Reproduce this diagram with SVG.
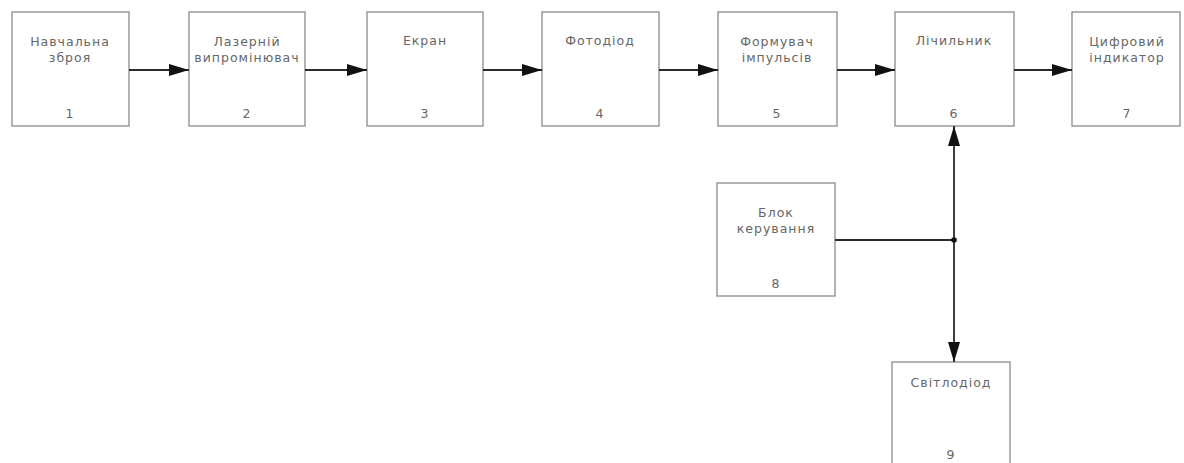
<svg xmlns="http://www.w3.org/2000/svg" width="1184" height="463" viewBox="0 0 1184 463">
<style>
.b{fill:#fff;stroke:#8a8a8a;stroke-width:1.3}
.t{font-family:"DejaVu Sans","Liberation Sans",sans-serif;font-size:12.5px;letter-spacing:1px;fill:#666;text-anchor:middle}
.c{stroke:#2a2a2a;stroke-width:1.8;fill:none}
</style>
<defs>
<marker id="a" viewBox="0 0 20 12" refX="20" refY="6" markerWidth="20" markerHeight="12" markerUnits="userSpaceOnUse" orient="auto-start-reverse">
<path d="M0,0 L20,6 L0,12 z" fill="#111"/>
</marker>
</defs>
<rect width="1184" height="463" fill="#fff"/>
<g id="n1"><rect class="b" x="12" y="12" width="117" height="114"/><text class="t" x="70" y="46">Навчальна</text><text class="t" x="70" y="62">зброя</text><text class="t" x="70" y="118">1</text></g>
<g id="n2"><rect class="b" x="189" y="12" width="116" height="114"/><text class="t" x="247" y="46">Лазерній</text><text class="t" x="247" y="62">випромінювач</text><text class="t" x="247" y="118">2</text></g>
<g id="n3"><rect class="b" x="367" y="12" width="116" height="114"/><text class="t" x="425" y="45">Екран</text><text class="t" x="425" y="118">3</text></g>
<g id="n4"><rect class="b" x="542" y="12" width="117" height="114"/><text class="t" x="600" y="45">Фотодіод</text><text class="t" x="600" y="118">4</text></g>
<g id="n5"><rect class="b" x="718" y="12" width="119" height="114"/><text class="t" x="777" y="46">Формувач</text><text class="t" x="777" y="62">імпульсів</text><text class="t" x="777" y="118">5</text></g>
<g id="n6"><rect class="b" x="895" y="12" width="119" height="114"/><text class="t" x="954" y="45">Лічильник</text><text class="t" x="954" y="118">6</text></g>
<g id="n7"><rect class="b" x="1072" y="12" width="108" height="114"/><text class="t" x="1127" y="46">Цифровий</text><text class="t" x="1127" y="62">індикатор</text><text class="t" x="1127" y="118">7</text></g>
<g id="n8"><rect class="b" x="717" y="183" width="118" height="113"/><text class="t" x="776" y="217">Блок</text><text class="t" x="776" y="233">керування</text><text class="t" x="776" y="288">8</text></g>
<g id="n9"><rect class="b" x="892" y="362" width="118" height="110"/><text class="t" x="951" y="387">Світлодіод</text><text class="t" x="951" y="459">9</text></g>
<g id="connectors">
<line class="c" x1="129" y1="70" x2="189" y2="70" marker-end="url(#a)"/>
<line class="c" x1="305" y1="70" x2="367" y2="70" marker-end="url(#a)"/>
<line class="c" x1="483" y1="70" x2="542" y2="70" marker-end="url(#a)"/>
<line class="c" x1="659" y1="70" x2="718" y2="70" marker-end="url(#a)"/>
<line class="c" x1="837" y1="70" x2="895" y2="70" marker-end="url(#a)"/>
<line class="c" x1="1014" y1="70" x2="1072" y2="70" marker-end="url(#a)"/>
<line class="c" x1="835" y1="240" x2="954" y2="240"/>
<line class="c" x1="954" y1="240" x2="954" y2="126" marker-end="url(#a)"/>
<line class="c" x1="954" y1="240" x2="954" y2="362" marker-end="url(#a)"/>
<circle cx="954" cy="240" r="2.8" fill="#111"/>
</g>
</svg>
